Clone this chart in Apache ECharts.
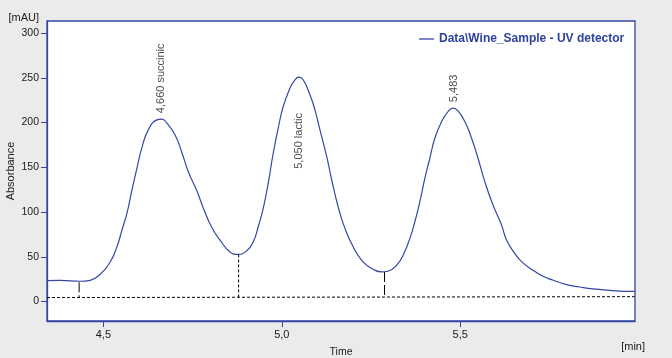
<!DOCTYPE html>
<html>
<head>
<meta charset="utf-8">
<script src="https://cdn.jsdelivr.net/npm/echarts@6/dist/echarts.min.js"></script>
<style>
html,body{margin:0;padding:0;background:#ebebeb;}
#chart{width:672px;height:358px;}
</style>
</head>
<body>
<div id="chart"></div>
<script>
// Chromatogram trace: time [min], absorbance [mAU]
const traceTime = [4.342,4.379,4.435,4.463,4.491,4.519,4.538,4.552,4.566,4.580,4.594,4.608,4.626,4.650,4.664,4.678,4.701,4.720,4.738,4.762,4.780,4.804,4.827,4.855,4.878,4.902,4.920,4.934,4.948,4.962,4.976,4.990,5.004,5.023,5.037,5.048,5.060,5.079,5.093,5.107,5.126,5.140,5.158,5.177,5.200,5.228,5.256,5.280,5.298,5.322,5.340,5.359,5.373,5.387,5.401,5.415,5.429,5.448,5.466,5.480,5.494,5.513,5.532,5.550,5.569,5.592,5.616,5.630,5.653,5.676,5.704,5.732,5.761,5.798,5.835,5.873,5.919,5.961,5.989];
const traceAbs = [23.4,23.7,22.6,23.7,30.5,44.2,61.1,79.8,98.5,124.6,148.9,172.0,191.8,203.0,203.8,199.3,186.2,166.5,145.1,123.7,104.6,82.7,68.6,55.4,52.6,56.8,66.7,83.5,104.1,132.1,165.7,193.7,217.9,238.5,247.8,250.8,247.8,231.0,214.1,191.8,161.9,135.8,105.9,81.7,61.1,44.2,36.1,33.0,33.8,40.6,51.8,70.5,89.1,111.5,137.7,160.1,182.5,201.1,212.3,216.1,213.1,201.1,182.5,160.1,133.9,107.8,85.4,68.6,53.7,43.1,35.0,28.2,23.7,18.9,16.2,14.0,12.5,11.4,11.4];

// Baseline (dashed)
const baseTime = [4.342, 5.989];
const baseAbs = [4.4, 5.4];

// Peak integration boundaries (drop lines)
const dropTime = [4.432, 4.879, 5.288];
const dropTop = [21.5, 52.6, 33.0];
const dropBottom = [4.5, 4.8, 5.0];

// Peak annotations
const peakTime = [4.661, 5.049, 5.482];
const peakAbs = [203.8, 250.8, 216.1];
const peakNames = ['4,660 succinic', '5,050 lactic', '5,483'];
const peakInside = [false, true, false];

// Axis ticks
const xTicks = [4.5, 5.0, 5.5];
const yTicks = [0, 50, 100, 150, 200, 250, 300];

const seriesName = 'Data\\Wine_Sample - UV detector';
const BLUE = '#3447a3';
const TXT = '#1a1a1a';
const FONT = 'Liberation Sans';

const chart = echarts.init(document.getElementById('chart'));

const drops = dropTime.map((t, i) => ({
  type: 'line',
  data: [[t, dropTop[i]], [t, dropBottom[i]]],
  symbol: 'none',
  silent: true,
  lineStyle: { color: '#000', width: 1, type: i === 1 ? [3, 2] : [10, 3] },
  z: 1
}));

chart.setOption({
  backgroundColor: '#ebebeb',
  animation: false,
  textStyle: { fontFamily: FONT },
  grid: {
    left: 47, top: 21, width: 588, height: 300,
    containLabel: false,
    outerBoundsMode: 'none',
    show: true, backgroundColor: '#ffffff', borderColor: BLUE, borderWidth: 1.3
  },
  legend: {
    show: true,
    left: 414, top: 28,
    data: [{ name: seriesName, icon: 'rect' }],
    itemWidth: 15, itemHeight: 1.3,
    itemGap: 6,
    textStyle: { color: '#2e42a0', fontWeight: 'bold', fontSize: 12, fontFamily: FONT }
  },
  xAxis: {
    type: 'value',
    min: 4.342, max: 5.99,
    name: 'Time',
    nameLocation: 'middle',
    nameGap: 31,
    nameMoveOverlap: false,
    nameTextStyle: { color: TXT, fontSize: 10.5, fontFamily: FONT, verticalAlign: 'middle' },
    axisLine: { show: true, onZero: false, lineStyle: { color: BLUE, width: 1.3 } },
    axisTick: { show: true, length: 6, customValues: xTicks, lineStyle: { color: BLUE } },
    axisLabel: {
      customValues: xTicks, margin: 8, color: TXT, fontSize: 11, fontFamily: FONT,
      formatter: v => v.toFixed(1).replace('.', ',')
    },
    splitLine: { show: false }
  },
  yAxis: {
    type: 'value',
    min: -21.8, max: 313.5,
    name: 'Absorbance',
    nameLocation: 'middle',
    nameGap: 36,
    nameMoveOverlap: false,
    nameRotate: 90,
    nameTextStyle: { color: TXT, fontSize: 11, fontFamily: FONT, verticalAlign: 'middle' },
    axisLine: { show: true, onZero: false, lineStyle: { color: BLUE, width: 1.3 } },
    axisTick: { show: true, length: 6, customValues: yTicks, lineStyle: { color: BLUE } },
    axisLabel: { customValues: yTicks, margin: 8, color: TXT, fontSize: 10.5, fontFamily: FONT },
    splitLine: { show: false }
  },
  graphic: [
    { type: 'text', right: 672 - 39, top: 12, style: { text: '[mAU]', fill: TXT, font: '11px "Liberation Sans"' } },
    { type: 'text', right: 672 - 645, top: 341, style: { text: '[min]', fill: TXT, font: '11px "Liberation Sans"' } }
  ],
  series: [
    {
      type: 'line',
      name: 'baseline',
      data: baseTime.map((t, i) => [t, baseAbs[i]]),
      symbol: 'none',
      silent: true,
      lineStyle: { color: '#000', width: 1, type: [3, 2] },
      z: 1
    },
    ...drops,
    {
      type: 'line',
      name: seriesName,
      data: traceTime.map((t, i) => [t, traceAbs[i]]),
      symbol: 'none',
      smooth: 0.5,
      lineStyle: { color: BLUE, width: 1.2 },
      itemStyle: { color: BLUE },
      z: 3
    },
    {
      type: 'scatter',
      name: 'peaks',
      symbolSize: 0,
      silent: true,
      data: peakTime.map((t, i) => ({
        value: [t, peakAbs[i]],
        label: peakInside[i]
          ? { position: 'bottom', distance: 36, align: 'right' }
          : { position: 'top', distance: 6, align: 'left' }
      })),
      label: {
        show: true,
        rotate: 90,
        verticalAlign: 'middle',
        color: TXT,
        fontSize: 11,
        fontFamily: FONT,
        formatter: p => peakNames[p.dataIndex]
      },
      z: 4
    }
  ]
});
</script>
</body>
</html>
